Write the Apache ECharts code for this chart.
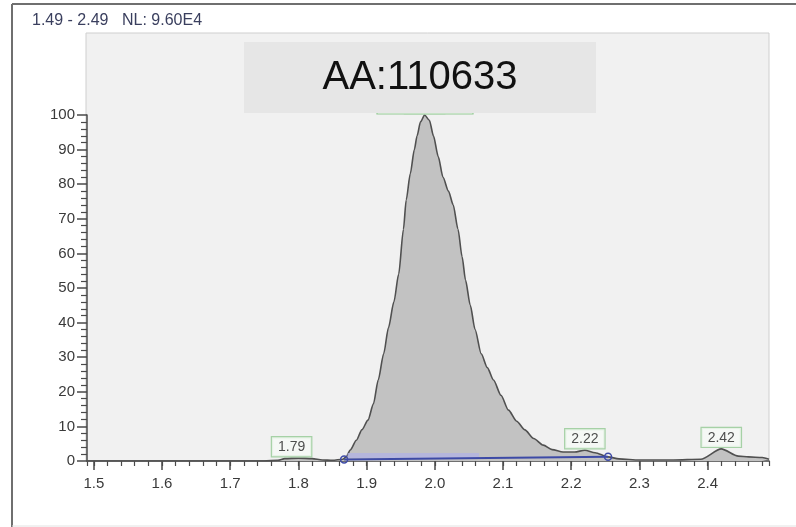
<!DOCTYPE html>
<html>
<head>
<meta charset="utf-8">
<script src="https://cdn.jsdelivr.net/npm/echarts@6/dist/echarts.min.js"></script>
<style>
  html, body { margin: 0; padding: 0; background: #ffffff; }
  #chart { width: 796px; height: 527px; }
</style>
</head>
<body>
<div id="chart"></div>
<script>
// Retention time (min) and relative abundance (%) of the extracted ion trace
const retentionTime = [
  1.49, 1.55, 1.60, 1.65, 1.70, 1.75, 1.77, 1.78, 1.80, 1.82, 1.835, 1.85, 1.865, 1.870,
  1.876, 1.885, 1.893, 1.902, 1.910, 1.917, 1.925, 1.932, 1.940, 1.947, 1.954, 1.958,
  1.964, 1.970, 1.974, 1.979, 1.985, 1.992, 1.998, 2.005, 2.012, 2.020, 2.027, 2.034,
  2.040, 2.045, 2.052, 2.059, 2.068, 2.077, 2.086, 2.097, 2.108, 2.120, 2.132, 2.145,
  2.159, 2.172, 2.188, 2.205, 2.220, 2.235, 2.254, 2.270, 2.300, 2.350, 2.390, 2.420,
  2.445, 2.460, 2.480, 2.490
];
const relAbundance = [
  0, 0, 0, 0, 0, 0, 0.2, 0.7, 0.8, 0.7, 0.3, 0.2, 0.5, 1.2,
  3.2, 6, 9, 11.8, 16.5, 23.4, 31, 38.5, 46, 54, 67, 75.4,
  83, 90, 94, 98, 100, 98.5, 94, 88, 82, 78, 74, 67,
  59, 52.3, 45, 38, 31, 27, 23.4, 19, 14.7, 11.5, 9, 6.5,
  4.6, 3.3, 2.6, 2.6, 3.1, 2.4, 1.2, 0.6, 0.3, 0.3, 0.5, 3.5,
  1.4, 1.2, 1.0, 0.5
];

// Integration baseline under the main peak (start / end)
const baselineTime = [1.867, 2.254];
const baselineLevel = [0.4, 1.2];
// Shaded integration band along the baseline
const bandTime = [1.872, 2.065];
const bandLevel = [1.6, 1.6];

// Labelled apexes
const apexTime = [1.79, 1.985, 2.22, 2.42];
const apexLevel = [0.8, 100, 3.1, 3.5];

const rangeText = '1.49 - 2.49';
const normText = 'NL: 9.60E4';
const areaText = 'AA:110633';

const xMin = 1.49, xMax = 2.49;
const yTicks = { min: 0, max: 100, step: 10 };

const trace = retentionTime.map((t, i) => [t, relAbundance[i]]);
const baseline = baselineTime.map((t, i) => [t, baselineLevel[i]]);
const band = bandTime.map((t, i) => [t, bandLevel[i]]);
const apexes = apexTime.map((t, i) => [t, apexLevel[i]]);

const axisColor = '#4a4a4a';
const labelFont = 'Liberation Sans, Arial, sans-serif';

const chart = echarts.init(document.getElementById('chart'), null, { renderer: 'canvas' });

chart.setOption({
  animation: false,
  backgroundColor: '#ffffff',
  grid: [
    // panel background (extends above the 100 % line)
    { left: 86, right: 27, top: 33, bottom: 66, show: true,
      backgroundColor: '#f1f1f1', borderColor: '#cfcfcf', borderWidth: 1 },
    // data area: 0..100 %
    { left: 87, right: 27, top: 115, bottom: 66 }
  ],
  xAxis: [
    { gridIndex: 0, type: 'value', min: 0, max: 1, show: false },
    {
      gridIndex: 1, type: 'value', min: xMin, max: xMax, splitNumber: 10,
      axisLine: { show: true, onZero: false, lineStyle: { color: axisColor, width: 1.5 } },
      axisTick: { show: true, length: 9, lineStyle: { color: axisColor, width: 1.5 } },
      axisLabel: {
        showMinLabel: false, showMaxLabel: false, margin: 15,
        fontSize: 15, color: '#3a3a3a', fontFamily: labelFont,
        formatter: v => v.toFixed(1)
      },
      splitLine: { show: false }
    },
    {
      gridIndex: 1, type: 'value', min: xMin, max: xMax, splitNumber: 50, position: 'bottom',
      axisLine: { show: false },
      axisTick: { show: true, length: 5, lineStyle: { color: axisColor, width: 1.2 } },
      axisLabel: { show: false },
      splitLine: { show: false }
    }
  ],
  yAxis: [
    { gridIndex: 0, type: 'value', min: 0, max: 1, show: false },
    {
      gridIndex: 1, type: 'value', min: yTicks.min, max: yTicks.max, interval: yTicks.step,
      axisLine: { show: true, lineStyle: { color: axisColor, width: 1.5 } },
      axisTick: { show: true, length: 10, lineStyle: { color: axisColor, width: 1.5 } },
      minorTick: { show: true, splitNumber: 5, length: 6, lineStyle: { color: axisColor, width: 1.2 } },
      axisLabel: { margin: 12, fontSize: 15, color: '#3a3a3a', fontFamily: labelFont },
      splitLine: { show: false }
    }
  ],
  series: [
    {
      type: 'line', xAxisIndex: 1, yAxisIndex: 1,
      data: trace, showSymbol: false, symbol: 'none',
      smooth: 0.25, smoothMonotone: 'x',
      lineStyle: { color: '#505050', width: 1.6 },
      areaStyle: { color: '#c2c2c2', opacity: 1 },
      z: 3
    },
    {
      type: 'line', xAxisIndex: 1, yAxisIndex: 1,
      data: band, symbol: 'none',
      lineStyle: { color: 'rgba(176,178,228,0.75)', width: 5 },
      z: 3
    },
    {
      type: 'line', xAxisIndex: 1, yAxisIndex: 1,
      data: baseline, symbol: 'circle', symbolSize: 7, showSymbol: true,
      lineStyle: { color: '#3d4aa6', width: 2 },
      itemStyle: { color: 'rgba(0,0,0,0)', borderColor: '#3d4aa6', borderWidth: 1.5 },
      z: 4
    },
    {
      type: 'scatter', xAxisIndex: 1, yAxisIndex: 1,
      data: apexes, symbolSize: 0,
      label: {
        show: true, position: 'top', distance: 2,
        formatter: p => p.value[0].toFixed(2),
        fontSize: 14, color: '#222', fontFamily: labelFont,
        backgroundColor: '#f6faf6', borderColor: '#93c993', borderWidth: 1.2,
        padding: [3, 6, 2, 6]
      },
      emphasis: { disabled: true },
      z: 5
    }
  ],
  graphic: [
    // outer frame
    { type: 'line', z: 50, shape: { x1: 12, y1: 4, x2: 796, y2: 4 },
      style: { stroke: '#6f6f6f', lineWidth: 2 } },
    { type: 'line', z: 50, shape: { x1: 12, y1: 4, x2: 12, y2: 527 },
      style: { stroke: '#6f6f6f', lineWidth: 2 } },
    { type: 'line', z: 50, shape: { x1: 12, y1: 526, x2: 796, y2: 526 },
      style: { stroke: '#e2e2e2', lineWidth: 1 } },
    // header
    { type: 'text', z: 50, left: 32, top: 13,
      style: { text: rangeText, fontSize: 16, fill: '#3a3f5e', fontFamily: labelFont } },
    { type: 'text', z: 50, left: 122, top: 13,
      style: { text: normText, fontSize: 16, fill: '#3a3f5e', fontFamily: labelFont } },
    // peak area box
    { type: 'rect', z: 60, shape: { x: 244, y: 42, width: 352, height: 71 },
      style: { fill: '#e6e6e6' } },
    { type: 'rect', z: 59, shape: { x: 377, y: 111, width: 96, height: 3 },
      style: { fill: '#f6faf6', stroke: '#93c993', lineWidth: 1.2 } },
    { type: 'text', z: 61, x: 420, y: 78,
      style: { text: areaText, fontSize: 40, fill: '#111', fontFamily: labelFont,
               textAlign: 'center', textVerticalAlign: 'middle' } }
  ]
});
</script>
</body>
</html>
